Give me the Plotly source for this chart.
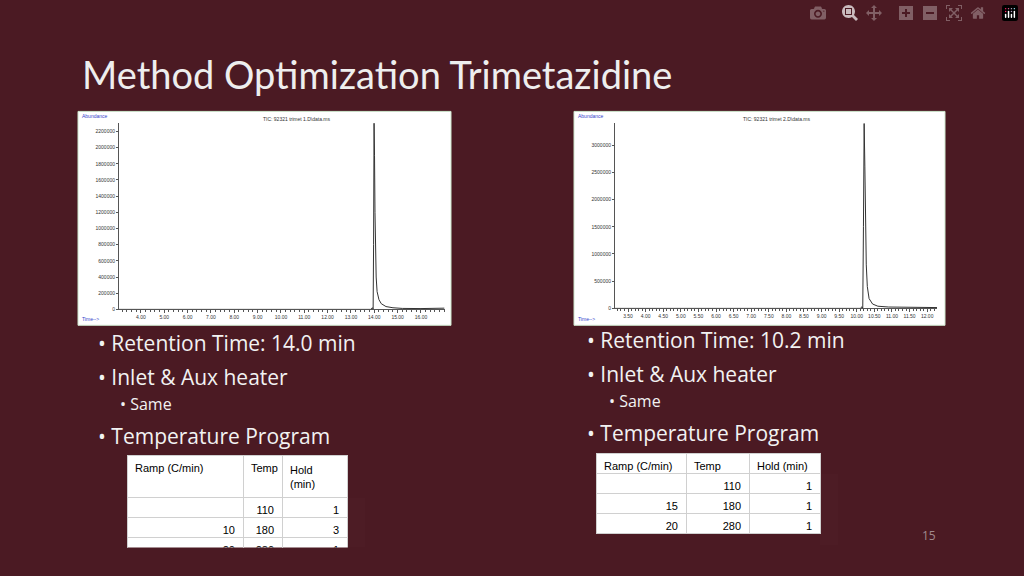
import plotly.graph_objects as go

# Data
t1 = [3.06, 13.85, 13.92, 13.95, 13.97, 13.99, 14.01, 14.03, 14.05, 14.08, 14.12, 14.2, 14.3, 14.5, 14.8, 15.2, 16.0, 17.0]
a1 = [0, 0, 20000, 0, 800000, 2320000, 1900000, 1200000, 700000, 400000, 220000, 120000, 70000, 35000, 20000, 12000, 10000, 15000]
t2 = [3.13, 10.1, 10.15, 10.17, 10.19, 10.21, 10.23, 10.25, 10.27, 10.3, 10.35, 10.45, 10.6, 10.9, 11.5, 12.28]
a2 = [0, 0, 30000, 0, 1500000, 3400000, 2600000, 1500000, 800000, 400000, 180000, 80000, 40000, 25000, 15000, 15000]
y1_ticks = list(range(0, 2200001, 200000))
y2_ticks = list(range(0, 3000001, 500000))
x1_ticks = [4, 5, 6, 7, 8, 9, 10, 11, 12, 13, 14, 15, 16]
x2_ticks = [3.5 + 0.5 * i for i in range(18)]
table_header = ["Ramp (C/min)", "Temp", "Hold (min)"]
t1_ramp = ["", "10", "20"]; t1_temp = ["110", "180", "280"]; t1_hold = ["1", "3", "1"]
t2_ramp = ["", "15", "20"]; t2_temp = ["110", "180", "280"]; t2_hold = ["1", "1", "1"]
bullets_left = ["Retention Time: 14.0 min", "Inlet & Aux heater", "Same", "Temperature Program"]
bullets_right = ["Retention Time: 10.2 min", "Inlet & Aux heater", "Same", "Temperature Program"]

W, H = 1024, 576
px = lambda x: x / W
py = lambda y: 1 - y / H
BG = "#4b1a23"

fig = go.Figure()
fig.add_trace(go.Scatter(x=t1, y=a1, mode="lines", line=dict(color="#333", width=1), xaxis="x", yaxis="y", showlegend=False))
fig.add_trace(go.Scatter(x=t2, y=a2, mode="lines", line=dict(color="#333", width=1), xaxis="x2", yaxis="y2", showlegend=False))

def tbl(x0, x1, y0, y1, ramp, temp, hold, widths):
    return go.Table(
        domain=dict(x=[px(x0), px(x1)], y=[py(y1 + 10), py(y0)]),
        columnwidth=widths,
        header=dict(values=table_header, align="left", height=20, fill_color="white",
                    line_color="#d0d0d0", font=dict(family="Liberation Sans", size=11, color="black")),
        cells=dict(values=[ramp, temp, hold], align="right", height=20, fill_color="white",
                   line_color="#d0d0d0", font=dict(family="Liberation Sans", size=11, color="black")))

fig.add_trace(tbl(127, 347, 458, 541, t1_ramp, t1_temp, t1_hold, [116, 39, 65]))
fig.add_trace(tbl(596, 820, 456, 539, t2_ramp, t2_temp, t2_hold, [90, 63, 71]))

axfont = dict(family="Liberation Sans", size=5, color="#333")
common_x = dict(showgrid=False, zeroline=False, showline=True, linecolor="#555", ticks="outside", ticklen=3,
                tickcolor="#555", tickfont=axfont)
common_y = dict(showgrid=False, zeroline=False, showline=True, linecolor="#555", ticks="outside", ticklen=2,
                tickcolor="#555", tickfont=axfont)

fig.update_layout(
    width=W, height=H, margin=dict(l=0, r=0, t=0, b=0),
    paper_bgcolor=BG, plot_bgcolor="white",
    xaxis=dict(domain=[px(119), px(445)], range=[3.06, 17.03], tickvals=x1_ticks,
               ticktext=[f"{v:.2f}" for v in x1_ticks], anchor="y",
               minor=dict(ticks="outside", ticklen=2, tickcolor="#555", dtick=0.2), **common_x),
    yaxis=dict(domain=[py(311), py(124)], range=[0, 2300000], tickvals=y1_ticks,
               ticktext=[str(v) for v in y1_ticks], anchor="x", **common_y),
    xaxis2=dict(domain=[px(615), px(937)], range=[3.13, 12.28], tickvals=x2_ticks,
                ticktext=[f"{v:.2f}" for v in x2_ticks], anchor="y2",
                minor=dict(ticks="outside", ticklen=2, tickcolor="#555", dtick=0.1), **common_x),
    yaxis2=dict(domain=[py(310), py(124)], range=[0, 3400000], tickvals=y2_ticks,
                ticktext=[str(v) for v in y2_ticks], anchor="x2", **common_y),
)

shapes = []
for (x0, x1) in [(78, 451), (574, 945)]:
    shapes.append(dict(type="rect", xref="paper", yref="paper", x0=px(x0), x1=px(x1), y0=py(327), y1=py(112),
                       fillcolor="white", line=dict(color="#cde6cd", width=1), layer="below"))
fig.update_layout(shapes=shapes)

ann = []
def A(**k):
    k.setdefault("xref", "paper"); k.setdefault("yref", "paper"); k.setdefault("showarrow", False)
    ann.append(k)

A(x=px(80), y=py(74), text="Method Optimization Trimetazidine", xanchor="left", yanchor="middle",
  font=dict(family="Lato", size=38, color="#eeeeee"))
for (bx, title, cx) in [(78, "TIC: 92321 trimet 1.D\\data.ms", 296), (574, "TIC: 92321 trimet 2.D\\data.ms", 776)]:
    A(x=px(bx + 2), y=py(117), text="Abundance", xanchor="left", yanchor="middle",
      font=dict(family="Liberation Sans", size=5, color="#3344cc"))
    A(x=px(bx + 2), y=py(321), text="Time-->", xanchor="left", yanchor="middle",
      font=dict(family="Liberation Sans", size=5, color="#3344cc"))
    A(x=px(cx), y=py(120), text=title, xanchor="center", yanchor="middle",
      font=dict(family="Liberation Sans", size=5, color="#333"))

def bullets(x, ys, items):
    for i, (y, t) in enumerate(zip(ys, items)):
        sub = (i == 2)
        A(x=px(x + (22 if sub else 0)), y=py(y), text=("• " + t), xanchor="left", yanchor="middle",
          font=dict(family="Open Sans", size=16 if sub else 21, color="#f2f2f2"))

bullets(96, [345, 379, 406, 438], bullets_left)
bullets(585, [342, 376, 403, 435], bullets_right)
A(x=px(938), y=py(549), text="15", font=dict(family="Open Sans", size=12, color="#a08a8e"))
fig.update_layout(annotations=ann)

fig.write_html("out.html", post_script="document.body.style.margin='0';")
